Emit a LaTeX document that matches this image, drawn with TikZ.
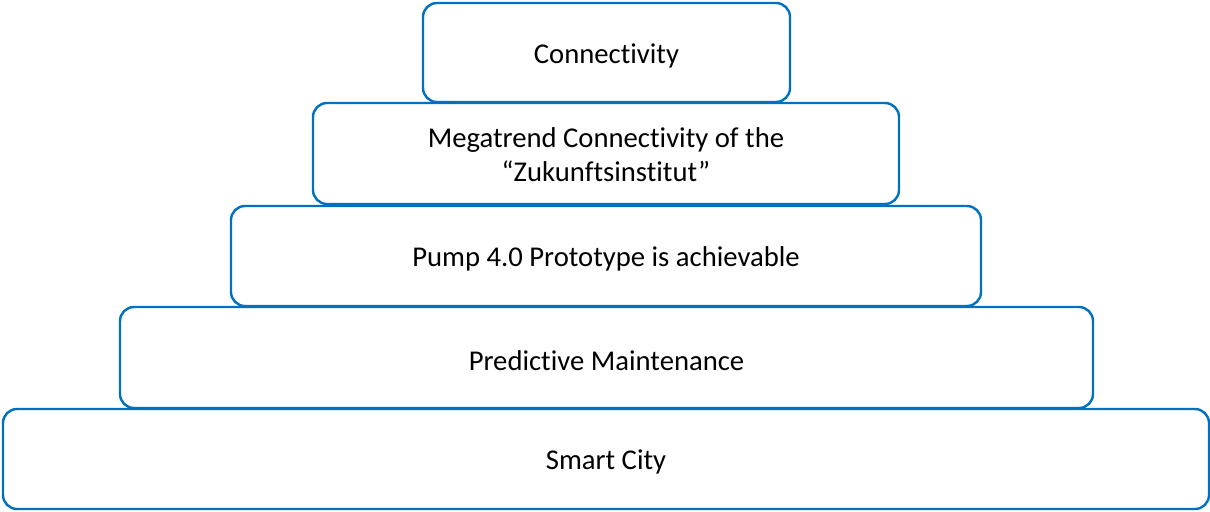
\documentclass[tikz,border=0pt]{standalone}
\usepackage{fontspec}
\setmainfont[RawFeature={-liga}]{Carlito}
\definecolor{boxblue}{HTML}{0070C0}
\begin{document}
\begin{tikzpicture}[x=0.75pt,y=-0.75pt,
  tier/.style={draw=boxblue,line width=1.8pt,rounded corners=10.5pt,inner sep=0pt,outer sep=0pt},
  tiertext/.style={align=center,font=\fontsize{21.5}{25.5}\selectfont,inner sep=0pt}]
\useasboundingbox (0,0) rectangle (1210,511);
\node[tier,minimum width=904.5pt,minimum height=75pt] (e) at (606,459) {};
\node[tier,minimum width=729.75pt,minimum height=75.75pt] (d) at (606.5,357.5) {};
\node[tier,minimum width=562.5pt,minimum height=75pt] (c) at (606,256) {};
\node[tier,minimum width=439.5pt,minimum height=75.75pt] (b) at (606,153.5) {};
\node[tier,minimum width=275.25pt,minimum height=74.25pt] (a) at (606.5,52.5) {};
\node[tiertext] (te) at ([yshift=-2.25pt]e.center) {Smart City};
\node[tiertext] (td) at ([yshift=-2.25pt]d.center) {Predictive Maintenance};
\node[tiertext] (tc) at ([yshift=-2.25pt]c.center) {Pump 4.0 Prototype is achievable};
\node[tiertext] (tb) at ([yshift=-1pt]b.center) {Megatrend Connectivity of the\\“Zukunftsinstitut”};
\node[tiertext] (ta) at ([yshift=-2.25pt]a.center) {Connectivity};
\end{tikzpicture}
\end{document}
